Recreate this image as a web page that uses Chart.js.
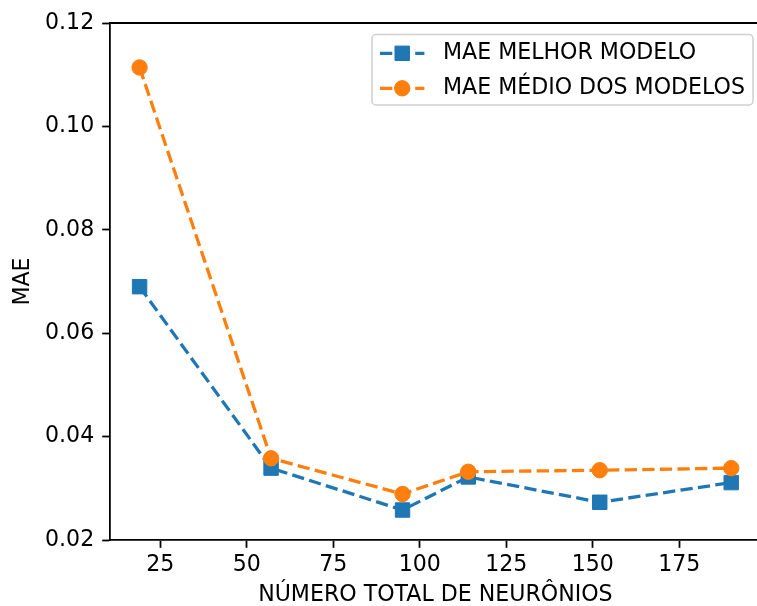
<!DOCTYPE html>
<html>
<head>
<meta charset="utf-8">
<script src="https://cdn.jsdelivr.net/npm/chart.js@4/dist/chart.umd.min.js"></script>
<style>
  html, body { margin: 0; padding: 0; background: #fff; overflow: hidden; width: 757px; height: 606px; }
  #wrap { position: absolute; left: 0; top: 0; width: 772px; height: 606px; }
</style>
</head>
<body>
<div id="wrap"><canvas id="c" width="772" height="606"></canvas></div>
<script>
// Total neurons per network configuration
const neurons = [19, 57, 95, 114, 152, 190];
// MAE of the best model for each configuration
const maeBest = [0.0690, 0.0339, 0.0258, 0.0322, 0.0273, 0.0311];
// Mean MAE across all models for each configuration
const maeMean = [0.1114, 0.0358, 0.0289, 0.0332, 0.0335, 0.0339];
// Axis ticks
const xTickValues = [25, 50, 75, 100, 125, 150, 175];
const yTickValues = [0.02, 0.04, 0.06, 0.08, 0.10, 0.12];
const seriesLabels = ['MAE MELHOR MODELO', 'MAE MÉDIO DOS MODELOS'];

const BLUE = '#1f77b4';
const ORANGE = '#ff7f0e';
const FONT = 'DejaVu Sans';
const FS = 22.1;
const DASH = [12.3, 5.3];
const LW = 3.3;

const toPoints = ys => neurons.map((x, i) => ({ x, y: ys[i] }));

const datasets = [
  {
    label: seriesLabels[0],
    data: toPoints(maeBest),
    borderColor: BLUE,
    backgroundColor: BLUE,
    borderWidth: LW,
    borderDash: DASH,
    pointStyle: 'rect',
    pointRadius: 10.2,
    pointBorderWidth: 1,
    pointBackgroundColor: BLUE,
    pointBorderColor: BLUE,
    order: 2
  },
  {
    label: seriesLabels[1],
    data: toPoints(maeMean),
    borderColor: ORANGE,
    backgroundColor: ORANGE,
    borderWidth: LW,
    borderDash: DASH,
    pointStyle: 'circle',
    pointRadius: 7.7,
    pointBorderWidth: 1,
    pointBackgroundColor: ORANGE,
    pointBorderColor: ORANGE,
    order: 1
  }
];

// Top spine of the axes frame
const topSpine = {
  id: 'topSpine',
  afterDraw(chart) {
    const { ctx, chartArea } = chart;
    ctx.save();
    ctx.strokeStyle = '#000';
    ctx.lineWidth = 1.78;
    ctx.beginPath();
    ctx.moveTo(chartArea.left - 0.9, chartArea.top);
    ctx.lineTo(chart.width, chartArea.top);
    ctx.stroke();
    ctx.restore();
  }
};

// Legend box in the upper right corner of the plot
const innerLegend = {
  id: 'innerLegend',
  afterDraw(chart) {
    const { ctx } = chart;
    const box = { x: 372, y: 34.5, w: 381, h: 70.5, r: 4 };
    ctx.save();
    ctx.fillStyle = 'rgba(255,255,255,0.8)';
    ctx.strokeStyle = '#d0d0d0';
    ctx.lineWidth = 1.5;
    ctx.beginPath();
    ctx.roundRect(box.x, box.y, box.w, box.h, box.r);
    ctx.fill();
    ctx.stroke();

    const rows = [53.3, 88.3];
    const hx0 = 380, hx1 = 424.4, tx = 443;
    datasets.forEach((ds, i) => {
      const y = rows[i];
      ctx.setLineDash(ds.borderDash);
      ctx.strokeStyle = ds.borderColor;
      ctx.lineWidth = ds.borderWidth;
      ctx.beginPath();
      ctx.moveTo(hx0, y);
      ctx.lineTo(hx1, y);
      ctx.stroke();
      ctx.setLineDash([]);
      ctx.fillStyle = ds.pointBackgroundColor;
      ctx.strokeStyle = ds.pointBorderColor;
      ctx.lineWidth = 1;
      Chart.helpers.drawPoint(ctx, {
        pointStyle: ds.pointStyle,
        radius: ds.pointRadius,
        borderWidth: 1,
        rotation: 0
      }, (hx0 + hx1) / 2, y);
      ctx.fillStyle = '#000';
      ctx.font = FS + 'px "' + FONT + '"';
      ctx.textBaseline = 'middle';
      ctx.textAlign = 'left';
      ctx.fillText(ds.label, tx, y);
    });
    ctx.restore();
  }
};

new Chart(document.getElementById('c'), {
  type: 'line',
  data: { datasets },
  options: {
    responsive: false,
    devicePixelRatio: 1,
    animation: false,
    layout: { padding: { left: 0, top: 23, right: 3, bottom: 0 } },
    plugins: { legend: { display: false }, tooltip: { enabled: false } },
    scales: {
      x: {
        type: 'linear',
        min: 10.45,
        max: 198.55,
        afterFit(s) { s.height = 66; },
        afterBuildTicks(s) { s.ticks = xTickValues.map(v => ({ value: v })); },
        grid: { drawOnChartArea: false, drawTicks: true, tickLength: 7.8, tickWidth: 1.78, tickColor: '#000' },
        border: { display: true, color: '#000', width: 1.78 },
        ticks: { color: '#000', padding: 4, font: { family: FONT, size: FS }, maxRotation: 0, autoSkip: false,
                 callback: v => String(v) },
        title: { display: true, text: 'NÚMERO TOTAL DE NEURÔNIOS', color: '#000',
                 font: { family: FONT, size: FS, lineHeight: 1.0 }, padding: { top: 0, bottom: 0 } }
      },
      y: {
        type: 'linear',
        min: 0.02,
        max: 0.12,
        afterFit(s) { s.width = 110; },
        afterBuildTicks(s) { s.ticks = yTickValues.map(v => ({ value: v })); },
        grid: { drawOnChartArea: false, drawTicks: true, tickLength: 7.8, tickWidth: 1.78, tickColor: '#000' },
        border: { display: true, color: '#000', width: 1.78 },
        ticks: { color: '#000', padding: 8, font: { family: FONT, size: FS }, autoSkip: false,
                 callback: v => v.toFixed(2) },
        title: { display: true, text: 'MAE', color: '#000',
                 font: { family: FONT, size: FS, lineHeight: 1.2 }, padding: { top: 10, bottom: 0 } }
      }
    }
  },
  plugins: [topSpine, innerLegend]
});
</script>
</body>
</html>
